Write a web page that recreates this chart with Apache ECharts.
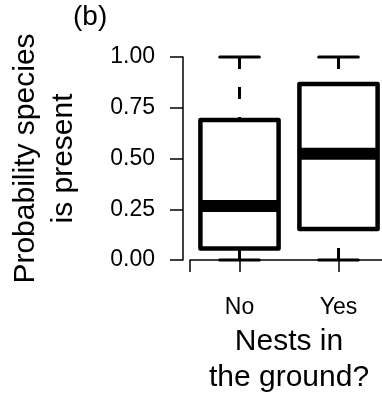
<!DOCTYPE html>
<html>
<head>
<meta charset="utf-8">
<script src="https://cdn.jsdelivr.net/npm/echarts@6/dist/echarts.min.js"></script>
<style>
    html, body { margin: 0; padding: 0; background: #fff; }
    #id-div-chart { width: 382px; height: 402px; }
</style>
</head>
<body>
<div id="id-div-chart"></div>
<script>
var log = console.log.bind(console)

var e = (selector) => document.querySelector(selector)

// 每组的五数概括
var groups = ['No', 'Yes']
var lows = [0.00, 0.00]
var q1s = [0.057, 0.153]
var medians = [0.266, 0.523]
var q3s = [0.690, 0.867]
var highs = [1.00, 1.00]
var yTicks = [0, 0.25, 0.5, 0.75, 1]

var font = 'Liberation Sans'

var boxData = function() {
    var data = []
    for (var i = 0; i < groups.length; i++) {
        data.push([i + 1, lows[i], q1s[i], medians[i], q3s[i], highs[i]])
    }
    return data
}

var renderBox = function(params, api) {
    var x = api.value(0)
    var lo = api.coord([x, api.value(1)])
    var b1 = api.coord([x, api.value(2)])
    var md = api.coord([x, api.value(3)])
    var b3 = api.coord([x, api.value(4)])
    var hi = api.coord([x, api.value(5)])
    var unit = api.size([1, 0])[0]
    var half = unit * 0.395
    var cap = unit * 0.2
    var cx = lo[0]
    var solid = {stroke: '#000', lineWidth: 3, lineCap: 'round'}
    var dashed = {stroke: '#000', lineWidth: 3, lineDash: [12, 18]}
    return {
        type: 'group',
        children: [
            {type: 'line', shape: {x1: cx, y1: hi[1], x2: cx, y2: b3[1]}, style: dashed},
            {type: 'line', shape: {x1: cx, y1: lo[1], x2: cx, y2: b1[1]}, style: dashed},
            {type: 'line', shape: {x1: cx - cap, y1: hi[1], x2: cx + cap, y2: hi[1]}, style: solid},
            {type: 'line', shape: {x1: cx - cap, y1: lo[1], x2: cx + cap, y2: lo[1]}, style: solid},
            {
                type: 'rect',
                shape: {x: cx - half, y: b3[1], width: half * 2, height: b1[1] - b3[1]},
                style: {fill: '#fff', stroke: '#000', lineWidth: 4.5, lineJoin: 'round'}
            },
            {type: 'line', shape: {x1: cx - half, y1: md[1], x2: cx + half, y2: md[1]}, style: {stroke: '#000', lineWidth: 12}},
        ]
    }
}

var chartOption = function() {
    var axisColor = '#000'
    var option = {
        animation: false,
        backgroundColor: '#fff',
        textStyle: {fontFamily: font},
        title: {
            text: '(b)',
            left: 73,
            top: 3,
            padding: 0,
            textStyle: {fontSize: 28, fontWeight: 'normal', color: '#000', fontFamily: font},
        },
        grid: {
            left: 190,
            width: 198,
            top: 57,
            height: 203,
            outerBoundsMode: 'none',
        },
        xAxis: {
            type: 'value',
            min: 0.5,
            max: 2.5,
            offset: 9,
            splitLine: {show: false},
            axisLine: {show: true, lineStyle: {color: axisColor, width: 1.5}},
            axisTick: {
                show: true,
                length: 12,
                customValues: [0.5, 1, 2, 2.5],
                lineStyle: {color: axisColor, width: 1.5},
            },
            axisLabel: {
                customValues: [1, 2],
                formatter: (v) => groups[Math.round(v) - 1],
                fontSize: 23,
                color: '#000',
                margin: 27,
            },
            name: 'Nests in\nthe ground?',
            nameLocation: 'middle',
            nameGap: 54,
            nameTextStyle: {fontSize: 30, lineHeight: 36, color: '#000'},
        },
        yAxis: {
            type: 'value',
            min: 0,
            max: 1,
            interval: 0.25,
            offset: 7,
            splitLine: {show: false},
            axisLine: {show: true, lineStyle: {color: axisColor, width: 1.5}},
            axisTick: {show: true, length: 13, lineStyle: {color: axisColor, width: 1.5}},
            axisLabel: {
                customValues: yTicks,
                formatter: (v) => v.toFixed(2),
                fontSize: 23,
                color: '#000',
                margin: 28,
            },
            name: 'Probability species\nis present',
            nameLocation: 'middle',
            nameGap: 100,
            nameTextStyle: {fontSize: 30, lineHeight: 38, color: '#000'},
        },
        series: [
            {
                type: 'custom',
                renderItem: renderBox,
                data: boxData(),
                clip: false,
            },
        ],
    }
    return option
}

var __main = function() {
    var chart = echarts.init(e('#id-div-chart'))
    chart.setOption(chartOption())
}

__main()
</script>
</body>
</html>
